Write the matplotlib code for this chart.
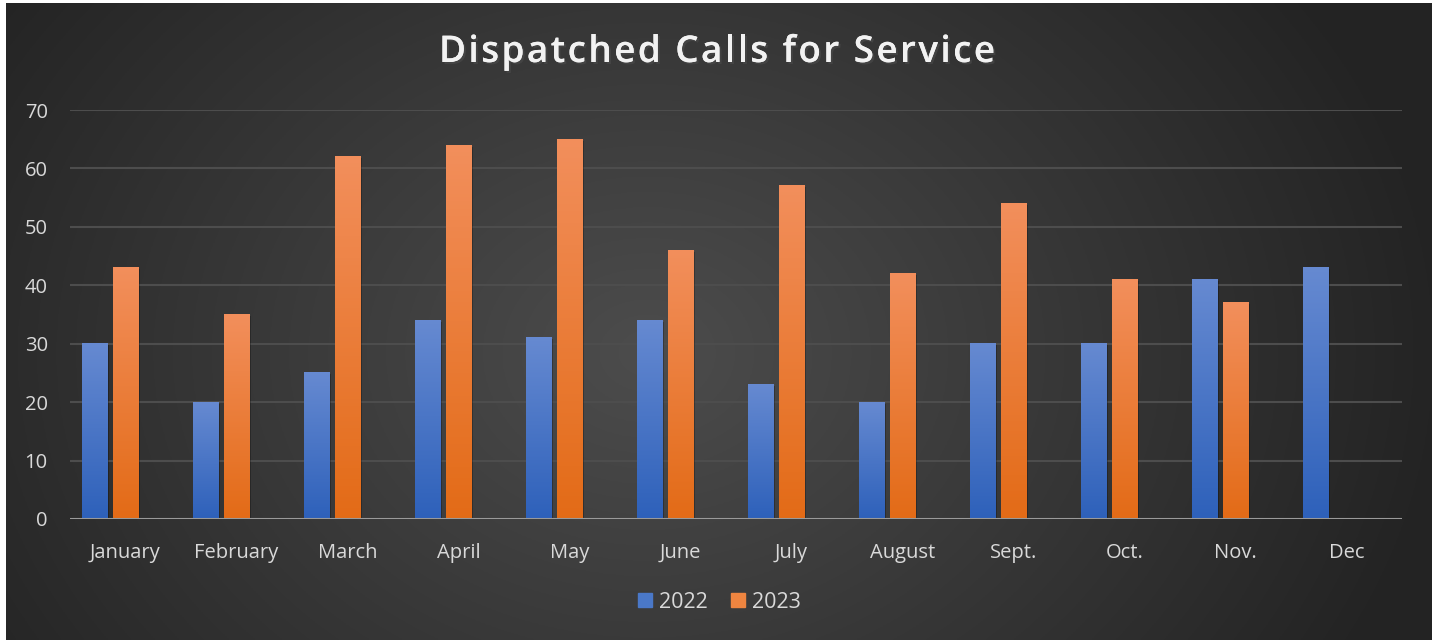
import numpy as np
import matplotlib.pyplot as plt
import matplotlib.patheffects as pe
from matplotlib.patches import Rectangle
from matplotlib.font_manager import FontProperties

months = ["January", "February", "March", "April", "May", "June",
          "July", "August", "Sept.", "Oct.", "Nov.", "Dec"]
calls_2022 = [30, 20, 25, 34, 31, 34, 23, 20, 30, 30, 41, 43]
calls_2023 = [43, 35, 62, 64, 65, 46, 57, 42, 54, 41, 37, 0]
y_ticks = [0, 10, 20, 30, 40, 50, 60, 70]
title = "Dispatched Calls for Service"

plt.rcParams['font.family'] = ['Open Sans', 'DejaVu Sans']
text_col = "#d9d9d9"

fig = plt.figure(figsize=(14.39, 6.42), dpi=100)
fig.patch.set_facecolor("white")

# dark panel with radial gradient
bg = fig.add_axes([6 / 1439, 2 / 642, 1426 / 1439, 637 / 642])
bg.set_axis_off()
yy, xx = np.mgrid[0:1:300j, 0:1:600j]
r = np.sqrt(((xx - 0.45) * 1.6) ** 2 + ((yy - 0.55) * 0.9) ** 2)
shade = np.clip(0.30 - 0.18 * r, 0.14, 0.30)
bg.imshow(np.dstack([shade] * 3), extent=[0, 1, 0, 1], aspect="auto")
bg.set_xlim(0, 1)
bg.set_ylim(0, 1)

ax = fig.add_axes([70 / 1439, 1 - 519 / 642, 1332 / 1439, 409 / 642])
ax.set_facecolor("none")
x = np.arange(len(months))
w = 0.234
b22 = ax.bar(x - 0.279, calls_2022, w, color="#4472c4", label="2022", zorder=3)
b23 = ax.bar(x, calls_2023, w, color="#ed7d31", label="2023", zorder=3)


def gradient_fill(bars, top, bottom):
    grad = np.linspace(0, 1, 100)[:, None, None]
    top = np.array(top)[None, None, :]
    bottom = np.array(bottom)[None, None, :]
    img = top * (1 - grad) + bottom * grad
    for p in bars:
        h = p.get_height()
        if h <= 0:
            continue
        x0 = p.get_x()
        ax.add_patch(Rectangle((x0 + 0.012, 0), p.get_width(), h - 0.25,
                               color="black", alpha=0.25, zorder=2, lw=0))
        ax.imshow(img, extent=[x0, x0 + p.get_width(), 0, h],
                  aspect="auto", zorder=3.5)


gradient_fill(b22, [0.40, 0.54, 0.82], [0.18, 0.38, 0.73])
gradient_fill(b23, [0.95, 0.56, 0.36], [0.89, 0.42, 0.09])

ax.set_xlim(-0.5, len(months) - 0.5)
ax.set_ylim(0, 70)
ax.set_yticks(y_ticks)
ax.set_xticks(x)
ax.set_xticklabels(months)
ax.grid(axis="y", color="#4d4d4d", lw=1.5, zorder=0)
ax.axhline(0, color="#9a9a9a", lw=2.2, zorder=4)
for s in ax.spines.values():
    s.set_visible(False)
ax.tick_params(length=0, colors=text_col, labelsize=14.5)
ax.tick_params(axis="y", pad=16)
ax.tick_params(axis="x", pad=17)

# title with letter spacing, drawn char by char
renderer = fig.canvas.get_renderer()
tprop = FontProperties(family=['Open Sans', 'DejaVu Sans'], size=26.5, weight='semibold')
def text_w(s):
    return renderer.get_text_width_height_descent(s, tprop, ismath=False)[0]
space_w = text_w("a a") - text_w("aa")
widths = [space_w if c == " " else text_w(c) for c in title]
target = 556
gap = (target - sum(widths)) / (len(title) - 1)
xpos = 717 - target / 2
for c, cw in zip(title, widths):
    if c != " ":
        fig.text(xpos / 1439, 1 - 53 / 642, c, ha="left", va="center",
                 fontproperties=tprop, color="#f2f2f2",
                 path_effects=[pe.withSimplePatchShadow(offset=(1.5, -1.5), alpha=0.7),
                               pe.Normal()])
    xpos += cw + gap

handles = [Rectangle((0, 0), 1, 1, color="#4a78c8"),
           Rectangle((0, 0), 1, 1, color="#ef8540")]
fig.legend(handles, ["2022", "2023"], loc="center", bbox_to_anchor=(0.5, 0.062),
           ncol=2, frameon=False, fontsize=15.5, labelcolor=text_col,
           handlelength=0.65, handleheight=0.65, handletextpad=0.3,
           columnspacing=1.1)

fig.savefig("out.png", dpi=100, facecolor=fig.get_facecolor())
